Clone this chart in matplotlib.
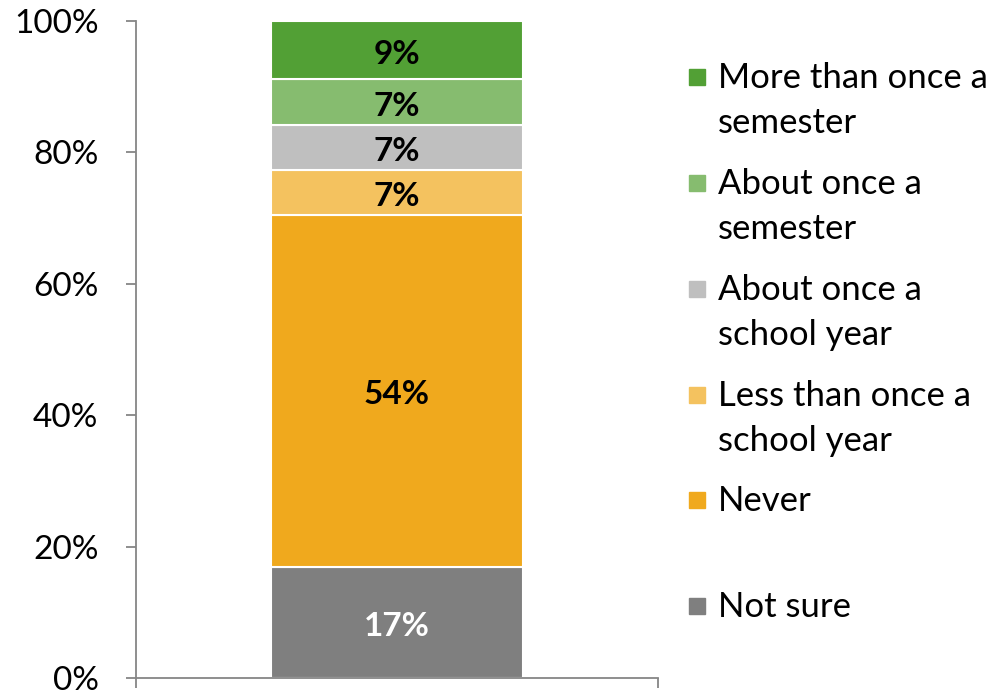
import numpy as np
import matplotlib.pyplot as plt
from matplotlib.patches import Rectangle

categories = ["Not sure", "Never", "Less than once a\nschool year", "About once a\nschool year",
              "About once a\nsemester", "More than once a\nsemester"]
values = [16.9, 53.6, 6.8, 6.9, 6.9, 8.9]
labels = ["17%", "54%", "7%", "7%", "7%", "9%"]
colors = ["#7f7f7f", "#f0a91d", "#f4c25f", "#bfbfbf", "#86bc6f", "#52a035"]
labelColors = ["white", "black", "black", "black", "black", "black"]
yTicks = [0, 20, 40, 60, 80, 100]

plt.rcParams["font.family"] = ["Lato", "DejaVu Sans"]

fig = plt.figure(figsize=(9.89, 6.92), dpi=100)
ax = fig.add_axes([136 / 989, 1 - 678 / 692, 522 / 989, 657 / 692])

bottom = 0
for v, lab, c, lc in zip(values, labels, colors, labelColors):
    ax.bar(0, v, width=0.483, bottom=bottom, color=c, edgecolor="white", linewidth=1.5)
    ax.annotate(lab, (0, bottom + v / 2), xytext=(0, -4), textcoords="offset pixels",
                ha="center", va="center", fontsize=24, fontweight="bold", color=lc)
    bottom += v

ax.set_xlim(-0.5, 0.5)
ax.set_ylim(0, 100)
ax.set_yticks(yTicks)
ax.set_yticklabels([f"{t}%" for t in yTicks], fontsize=24)
ax.set_xticks([-0.5, 0.5])
ax.set_xticklabels(["", ""])
for s in ["top", "right"]:
    ax.spines[s].set_visible(False)
for s in ["left", "bottom"]:
    ax.spines[s].set_color("#868686")
    ax.spines[s].set_linewidth(1.3)
ax.tick_params(axis="both", colors="#868686", length=7, width=1.3, labelcolor="black")
ax.tick_params(axis="y", pad=20)

# legend, top entry first
legY = [77, 183, 289, 395, 500, 606]
for i, (cat, c) in enumerate(zip(categories[::-1], colors[::-1])):
    yc = 1 - legY[i] / 692
    fig.patches.append(Rectangle((689 / 989, yc - 8 / 692), 16 / 989, 16 / 692,
                                 transform=fig.transFigure, color=c))
    fig.text(718 / 989, yc + 15 / 692, cat, fontsize=25, va="top", ha="left",
             linespacing=1.5, transform=fig.transFigure)

fig.savefig("out.png")
